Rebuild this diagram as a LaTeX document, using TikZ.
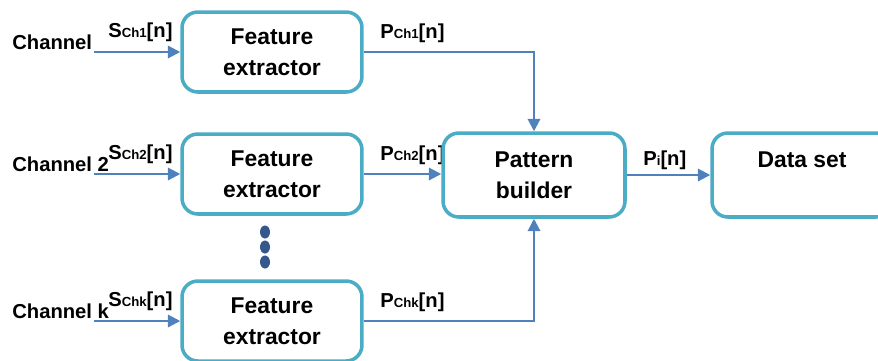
\documentclass[tikz,border=0pt]{standalone}
\usepackage{fontspec}
\setmainfont{Liberation Sans}
\usetikzlibrary{arrows.meta}
\definecolor{boxcyan}{RGB}{75,172,198}
\definecolor{arrblue}{RGB}{79,129,189}
\definecolor{dotblue}{RGB}{52,88,140}
\tikzset{
    blockbox/.style={draw=boxcyan, line width=2pt, rounded corners=9pt, minimum width=3.6cm, minimum height=1.6cm, align=center, font=\fontsize{13}{17.5}\selectfont\bfseries},
    sig/.style={draw=arrblue, line width=1.2pt, -{Triangle[length=7pt,width=7pt]}},
    lbl/.style={font=\fontsize{11.5}{13}\selectfont\bfseries, inner sep=0pt, anchor=west},
}
\newcommand{\chsub}[1]{{\fontsize{7.5}{8}\selectfont #1}}
\begin{document}
\begin{tikzpicture}[x=0.02cm, y=-0.02cm]
    \useasboundingbox (0,0) rectangle (878,360);
    \foreach \i/\y/\ch/\k in {1/52/Channel/1, 2/174/Channel 2/2, 3/321/Channel k/k}{
        \node[lbl] (ch\i) at (12,\y-10) {\ch};
        \coordinate (in\i) at (94,\y);
        \node[blockbox] (fe\i) at (272,\y) {Feature\\extractor};
        \node[lbl] (s\i) at (108,\y-20) {S\chsub{Ch\k}[n]};
        \node[lbl] (p\i) at (380,\y-19) {P\chsub{Ch\k}[n]};
        \draw[sig] (in\i) -- (fe\i);}
    \node[blockbox, minimum width=3.64cm, minimum height=1.68cm] (pb) at (534,175) {Pattern\\builder};
    \node[blockbox, minimum height=1.68cm] (ds) at (802,175) {Data set\\\mbox{}};
    \node[lbl] (pi) at (643,160) {P\chsub{i}[n]};
    \draw[sig] (fe1) -| (pb);
    \draw[sig] (fe2.east) -- (fe2.east -| pb.west);
    \draw[sig] (fe3) -| (pb);
    \draw[sig] (pb) -- (ds);
    \fill[dotblue] (265,232) ellipse [x radius=0.1cm, y radius=0.13cm];
    \fill[dotblue] (265,247) ellipse [x radius=0.1cm, y radius=0.13cm];
    \fill[dotblue] (265,262) ellipse [x radius=0.1cm, y radius=0.13cm];
\end{tikzpicture}
\end{document}
